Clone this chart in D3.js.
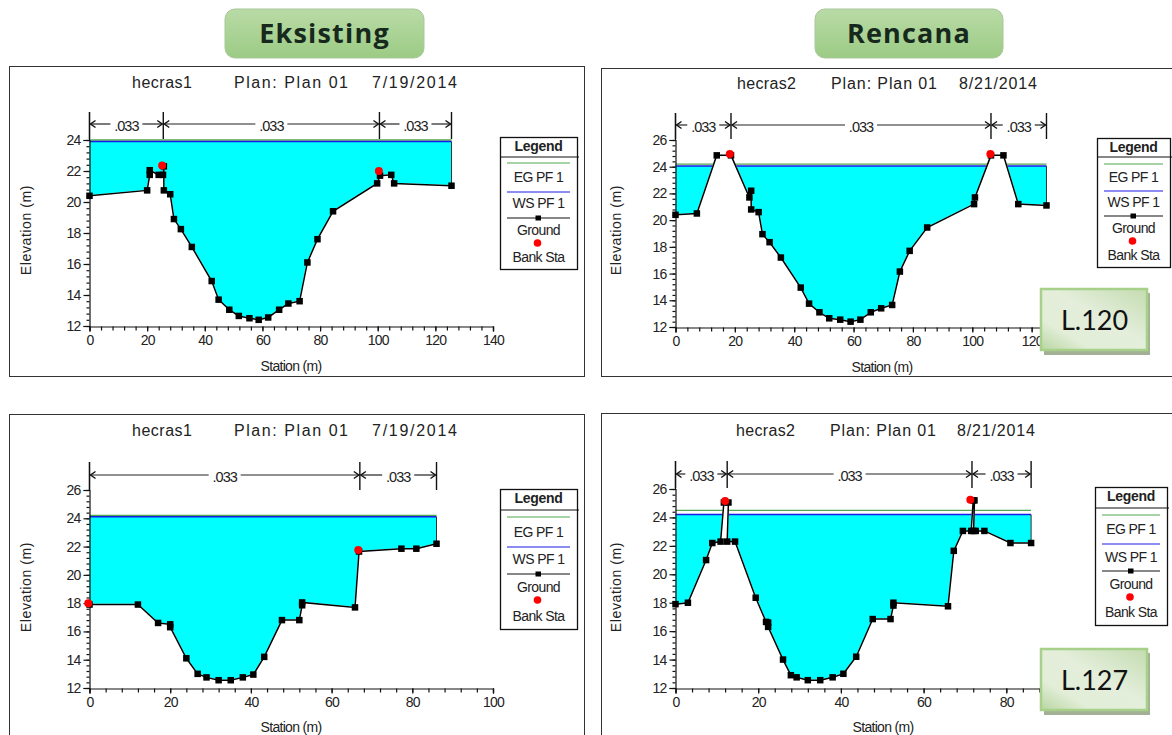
<!DOCTYPE html>
<html><head><meta charset="utf-8">
<script src="https://cdn.jsdelivr.net/npm/d3@7/dist/d3.min.js"></script>
<style>html,body{margin:0;padding:0;background:#fff;overflow:hidden}svg{display:block}
text{font-family:"Liberation Sans",Arial,sans-serif;fill:#222}</style></head><body>
<svg id="c" width="1172" height="735"></svg>
<script>
// ---- data ----
const xTicksA = [0,20,40,60,80,100,120,140];
const xTicksB = [0,20,40,60,80,100];
const yTicksA = [12,14,16,18,20,22,24];
const yTicksB = [12,14,16,18,20,22,24,26];

const p1Station = [0,20,20.9,20.9,24,25.5,25.8,25.8,28,29.3,31.7,35.5,42.4,44.8,48.5,51.8,55.5,58.7,62,65.8,69,72.9,75.6,79.1,84.5,99.8,100.8,104.7,105.7,125.6];
const p1Ground  = [20.4,20.75,21.75,22.05,21.75,21.75,22.3,20.75,20.5,18.9,18.25,17.1,14.9,13.7,13.05,12.65,12.5,12.4,12.55,13.05,13.45,13.6,16.1,17.6,19.4,21.2,21.7,21.75,21.2,21.05];
const p1BankX = [25.2,100.4], p1BankY = [22.35,22.0];
const p1Breaks = [0,25.6,100.6,125.6], p1N = [".033",".033",".033"];

const p2Station = [0,7.2,13.9,18.7,24.9,25.5,25.5,28,29.3,31.7,35.5,42.2,45,48.5,51.8,55.5,59,62.3,65.8,69.3,73,75.6,78.9,84.8,100.6,100.9,106.3,110.5,115.5,125];
const p2Ground  = [20.4,20.5,24.85,24.85,21.7,22.2,20.8,20.6,18.95,18.35,17.2,14.95,13.75,13.1,12.65,12.55,12.4,12.55,13.1,13.4,13.65,16.15,17.7,19.45,21.2,21.7,24.85,24.85,21.2,21.1];
const p2BankX = [18.3,106.1], p2BankY = [24.95,24.95];
const p2Breaks = [0,18.7,106.3,125], p2N = [".033",".033",".033"];

const p3Station = [0,12,17,20,20,24,26.8,29,32,35,38,40.6,43.3,47.7,52,52.7,52.7,65.8,66.8,77.3,81,86];
const p3Ground  = [17.9,17.9,16.6,16.5,16.3,14.1,13,12.75,12.55,12.55,12.75,12.95,14.2,16.8,16.8,17.85,18.05,17.7,21.65,21.85,21.85,22.2];
const p3BankX = [-0.3,66.6], p3BankY = [18,21.75];
const p3Breaks = [0,67,86], p3N = [".033",".033"];

const p4Station = [0,3,7.4,8.9,10.9,11.7,12.8,12.5,14.4,19.4,21.9,22.4,22.4,26,27.9,29.3,32,35,38,40.6,43.7,47.7,52,52.7,52.7,65.9,67.3,69.5,71.5,72,72.3,72.1,72.6,74.7,81,86];
const p4Ground  = [17.9,18,21,22.2,22.3,25.05,25.05,22.3,22.3,18.35,16.65,16.6,16.3,14,12.9,12.75,12.55,12.55,12.75,13,14.2,16.85,16.85,17.8,18,17.75,21.65,23.05,23.05,25.2,25.2,23.05,23.05,23.05,22.2,22.2];
const p4BankX = [12,71.3], p4BankY = [25.15,25.25];
const p4Breaks = [0,12.5,71.7,86], p4N = [".033",".033",".033"];

const wsLevels = [23.9,24.05,24.1,24.2];
const egLevels = [24.0,24.2,24.2,24.5];
const titlesA = ["hecras1","Plan: Plan 01","7/19/2014"];
const titlesB = ["hecras2","Plan: Plan 01","8/21/2014"];
const legendNames = ["EG PF 1","WS PF 1","Ground","Bank Sta"];
const headers = ["Eksisting","Rencana"];
const tags = ["L.120","L.127"];

// ---- layout ----
const titleWA = [60,114,85], titleWB = [59,106,78];
const panels = [
 {frame:[9,66,575,310], x0:89.5,x1:493,xMax:140,xT:xTicksA,yT:yTicksA,yPxTop:140,yPxBot:326,yMax:24,
  st:p1Station,gr:p1Ground,bx:p1BankX,by:p1BankY,br:p1Breaks,n:p1N,ws:wsLevels[0],eg:egLevels[0],tt:titlesA,tw:titleWA,
  tx:[132,234,372],ty:88,nTop:112,nBot:139,nY:124,axTop:112,xlab:[291,371],ylabX:31,ylabY:230,
  lg:{x:500,w:77,top:137,bot:269,div:157,eg:163,egT:177,ws:192,wsT:203,g:218,gT:230,b:243,bT:257}},
 {frame:[601,68,575,308], x0:675.5,x1:1091,xMax:140,xT:xTicksA,yT:yTicksB,yPxTop:140,yPxBot:327,yMax:26,
  st:p2Station,gr:p2Ground,bx:p2BankX,by:p2BankY,br:p2Breaks,n:p2N,ws:wsLevels[1],eg:egLevels[1],tt:titlesB,tw:titleWB,
  tx:[737,831,959],ty:89,nTop:113,nBot:139,nY:125,axTop:113,xlab:[882,372],ylabX:621,ylabY:230,
  lg:{x:1097,w:73,top:138,bot:267,div:157,eg:164,egT:177,ws:191,wsT:202,g:216,gT:228,b:241,bT:255}},
 {frame:[9,414,575,330], x0:89.5,x1:493,xMax:100,xT:xTicksB,yT:yTicksB,yPxTop:490,yPxBot:688,yMax:26,
  st:p3Station,gr:p3Ground,bx:p3BankX,by:p3BankY,br:p3Breaks,n:p3N,ws:wsLevels[2],eg:egLevels[2],tt:titlesA,tw:titleWA,
  tx:[132,234,372],ty:436,nTop:462,nBot:490,nY:475,axTop:462,xlab:[291,732],ylabX:31,ylabY:587,
  lg:{x:500,w:77,top:489,bot:629,div:510,eg:517,egT:532,ws:547,wsT:559,g:574,gT:587,b:600,bT:616}},
 {frame:[601,413,575,330], x0:675.5,x1:1089,xMax:100,xT:xTicksB,yT:yTicksB,yPxTop:489,yPxBot:688,yMax:26,
  st:p4Station,gr:p4Ground,bx:p4BankX,by:p4BankY,br:p4Breaks,n:p4N,ws:wsLevels[3],eg:egLevels[3],tt:titlesB,tw:titleWB,
  tx:[736,830,957],ty:436,nTop:461,nBot:488,nY:474,axTop:461,xlab:[883,732],ylabX:621,ylabY:587,
  lg:{x:1095,w:72,top:487,bot:625,div:508,eg:515,egT:529,ws:544,wsT:557,g:571,gT:584,b:597,bT:612}}
];

const svg = d3.select("#c");
const defs = svg.append("defs");
const g1 = defs.append("linearGradient").attr("id","hdr").attr("x1",0).attr("y1",0).attr("x2",0).attr("y2",1);
g1.append("stop").attr("offset",0).attr("stop-color","#b9dba6");
g1.append("stop").attr("offset",1).attr("stop-color","#9ccb85");
const g2 = defs.append("linearGradient").attr("id","tag").attr("x1",1).attr("y1",0).attr("x2",0).attr("y2",1);
g2.append("stop").attr("offset",0).attr("stop-color","#c4dcb0");
g2.append("stop").attr("offset",.45).attr("stop-color","#e4eedb");
g2.append("stop").attr("offset",.75).attr("stop-color","#e2eed8");
g2.append("stop").attr("offset",1).attr("stop-color","#b8d6a0");

panels.forEach((p,i)=>{
  const g = svg.append("g");
  g.append("rect").attr("x",p.frame[0]+.5).attr("y",p.frame[1]+.5).attr("width",p.frame[2]).attr("height",p.frame[3])
    .attr("fill","#fff").attr("stroke","#333").attr("stroke-width",1);
  p.tt.forEach((t,k)=>g.append("text").attr("x",p.tx[k]).attr("y",p.ty).attr("font-size",16)
     .attr("textLength",p.tw[k]).attr("lengthAdjust","spacing").text(t));

  const x = d3.scaleLinear().domain([0,p.xMax]).range([p.x0,p.x1]);
  const y = d3.scaleLinear().domain([12,p.yMax]).range([p.yPxBot,p.yPxTop]);
  const pts = p.st.map((s,k)=>[s,p.gr[k]]);
  const first = p.st[0], last = p.st[p.st.length-1];

  g.append("path").datum([first,last]).attr("fill","#00ffff")
    .attr("d",d3.area().x(d=>x(d)).y0(y(12)).y1(y(p.ws)));
  g.append("line").attr("x1",x(first)).attr("x2",x(last)).attr("y1",y(p.eg)).attr("y2",y(p.eg)).attr("stroke","#4ea84e").attr("stroke-width",1.3);
  g.append("line").attr("x1",x(first)).attr("x2",x(last)).attr("y1",y(p.ws)).attr("y2",y(p.ws)).attr("stroke","#1a1ae6").attr("stroke-width",1.5);
  g.append("path").datum(pts).attr("fill","#fff").attr("stroke","#fff").attr("stroke-width",1.5)
    .attr("d",d3.area().x(d=>x(d[0])).y0(y(12)).y1(d=>y(d[1])));
  g.append("line").attr("x1",x(last)).attr("x2",x(last)).attr("y1",y(p.ws)).attr("y2",y(p.gr[p.gr.length-1])).attr("stroke","#333").attr("stroke-width",1);

  g.append("g").attr("transform",`translate(0,${y(12)+.5})`).call(
     d3.axisBottom(x).tickValues(p.xT).tickSize(5).tickPadding(4).tickFormat(d3.format("d")));
  const xMinor = d3.range(0,p.xMax+.01,4);
  g.append("g").attr("transform",`translate(0,${y(12)+.5})`).call(d3.axisBottom(x).tickValues(xMinor).tickSize(4).tickFormat("")).select(".domain").remove();
  g.append("g").attr("transform",`translate(${p.x0},0)`).call(
     d3.axisLeft(y).tickValues(p.yT).tickSize(6).tickPadding(3).tickFormat(d3.format("d")));
  const yMinor = d3.range(12,p.yMax+.01,.4);
  g.append("g").attr("transform",`translate(${p.x0},0)`).call(d3.axisLeft(y).tickValues(yMinor).tickSize(3).tickFormat("")).select(".domain").remove();
  g.selectAll(".domain").attr("stroke","#111").attr("stroke-width",1.2);
  g.selectAll(".tick line").attr("stroke","#111").attr("stroke-width",1.2);
  g.selectAll(".tick text").attr("font-size",14).attr("letter-spacing",-.8).attr("fill","#222")
     .attr("font-family",'"Liberation Sans",Arial,sans-serif');
  g.append("line").attr("x1",p.x0).attr("x2",p.x0).attr("y1",p.axTop).attr("y2",y(p.yMax)).attr("stroke","#111").attr("stroke-width",1.2);

  g.append("text").attr("x",p.xlab[0]).attr("y",p.xlab[1]).attr("text-anchor","middle").attr("font-size",14).attr("letter-spacing",-.7).text("Station (m)");
  g.append("text").attr("transform",`translate(${p.ylabX},${p.ylabY}) rotate(-90)`).attr("text-anchor","middle").attr("font-size",14).attr("letter-spacing",.6).text("Elevation (m)");

  p.br.forEach(b=>g.append("line").attr("x1",x(b)).attr("x2",x(b)).attr("y1",p.nTop).attr("y2",p.nBot).attr("stroke","#111").attr("stroke-width",1.4));
  p.n.forEach((t,k)=>{
    const a=x(p.br[k]), b=x(p.br[k+1]), m=(a+b)/2;
    g.append("line").attr("x1",a+1).attr("x2",m-16).attr("y1",p.nY).attr("y2",p.nY).attr("stroke","#222").attr("stroke-width",1.2);
    g.append("line").attr("x1",m+16).attr("x2",b-1).attr("y1",p.nY).attr("y2",p.nY).attr("stroke","#222").attr("stroke-width",1.2);
    g.append("path").attr("d",`M${a+6},${p.nY-3.5}L${a+1},${p.nY}L${a+6},${p.nY+3.5}`).attr("fill","none").attr("stroke","#111").attr("stroke-width",1.4);
    g.append("path").attr("d",`M${b-6},${p.nY-3.5}L${b-1},${p.nY}L${b-6},${p.nY+3.5}`).attr("fill","none").attr("stroke","#111").attr("stroke-width",1.4);
    g.append("text").attr("x",m).attr("y",p.nY+7).attr("text-anchor","middle").attr("font-size",14.5).attr("letter-spacing",-1).text(t);
  });

  g.append("path").datum(pts).attr("fill","none").attr("stroke","#000").attr("stroke-width",1.5)
    .attr("d",d3.line().x(d=>x(d[0])).y(d=>y(d[1])));
  g.selectAll("rect.m").data(pts).join("rect").attr("class","m").attr("x",d=>x(d[0])-3.25).attr("y",d=>y(d[1])-3.25).attr("width",6.5).attr("height",6.5).attr("fill","#000");
  g.selectAll("circle.b").data(p.bx.map((v,k)=>[v,p.by[k]])).join("circle").attr("class","b").attr("cx",d=>x(d[0])).attr("cy",d=>y(d[1])).attr("r",4).attr("fill","#f00");

  const L=p.lg, cx=L.x+L.w/2;
  g.append("rect").attr("x",L.x+.5).attr("y",L.top+.5).attr("width",L.w).attr("height",L.bot-L.top).attr("fill","#fff").attr("stroke","#111").attr("stroke-width",1.3);
  g.append("line").attr("x1",L.x).attr("x2",L.x+L.w+2).attr("y1",L.div).attr("y2",L.div).attr("stroke","#111").attr("stroke-width",1.2);
  g.append("text").attr("x",cx).attr("y",L.top+14).attr("text-anchor","middle").attr("font-size",14).attr("font-weight","bold").attr("letter-spacing",-.3).text("Legend");
  [[L.eg,"#4ea84e"],[L.ws,"#1a1ae6"],[L.g,"#111"]].forEach(([ly,c])=>g.append("line").attr("x1",L.x+7).attr("x2",L.x+L.w-7).attr("y1",ly).attr("y2",ly).attr("stroke",c).attr("stroke-width",1.2));
  g.append("rect").attr("x",cx-3).attr("y",L.g-2.5).attr("width",5.5).attr("height",5).attr("fill","#000");
  g.append("circle").attr("cx",cx-1).attr("cy",L.b).attr("r",3.8).attr("fill","#f00");
  [L.egT,L.wsT,L.gT,L.bT].forEach((ty,k)=>g.append("text").attr("x",cx).attr("y",ty+5).attr("text-anchor","middle").attr("font-size",14).attr("letter-spacing",-.6).text(legendNames[k]));
});

[[225,199],[815,188]].forEach((b,i)=>{
  svg.append("rect").attr("x",b[0]).attr("y",9).attr("width",b[1]).attr("height",49).attr("rx",10).attr("fill","url(#hdr)").attr("stroke","#a9c79a");
  svg.append("text").attr("x",b[0]+b[1]/2).attr("y",43).attr("text-anchor","middle").attr("font-size",27).attr("font-weight","bold").attr("letter-spacing",1.2)
    .style("font-family",'"Open Sans",sans-serif').style("fill","#17281c").text(headers[i]);
});
[288,648].forEach((ty,i)=>{
  svg.append("rect").attr("x",1044).attr("y",ty+5).attr("width",106).attr("height",62).attr("fill","#a3b096");
  svg.append("rect").attr("x",1041).attr("y",ty+1).attr("width",106).attr("height",61).attr("fill","url(#tag)").attr("stroke","#a7d08a").attr("stroke-width",2.5);
  svg.append("text").attr("x",1094.5).attr("y",ty+42).attr("text-anchor","middle").attr("font-size",27)
    .style("font-family","Lato,sans-serif").style("fill","#111").text(tags[i]);
});
</script></body></html>
